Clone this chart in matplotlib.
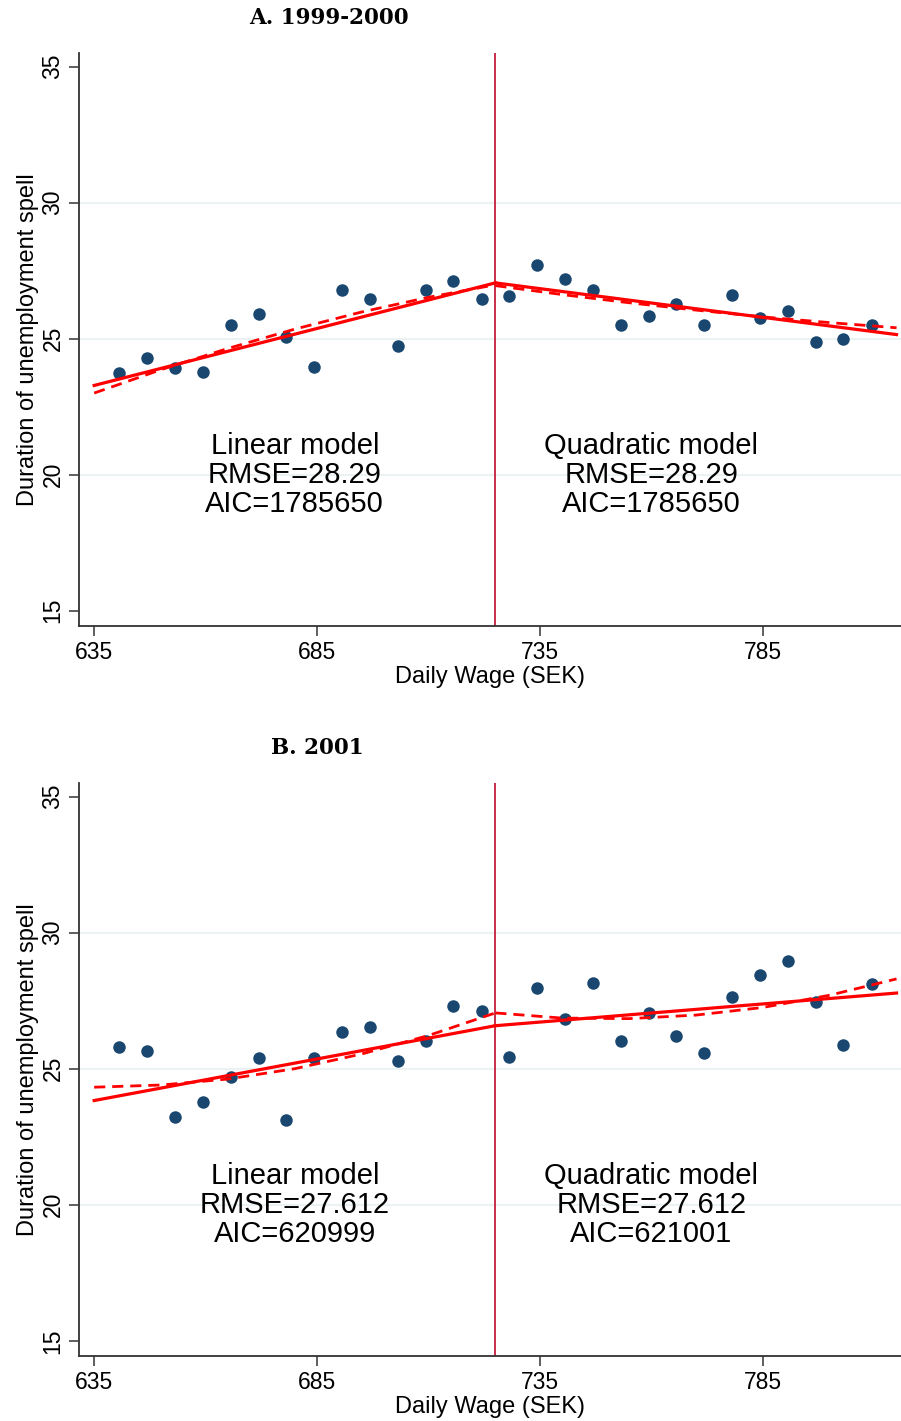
import matplotlib
import matplotlib.pyplot as plt

matplotlib.use('Agg')
plt.rcParams['font.family'] = ['Liberation Sans', 'DejaVu Sans']

# bin centres (daily wage, SEK) and cutoff
wage = [640.6, 646.9, 653.1, 659.4, 665.6, 671.9, 678.1, 684.4, 690.6, 696.9,
        703.1, 709.4, 715.6, 721.9, 728.1, 734.4, 740.6, 746.9, 753.1, 759.4,
        765.6, 771.9, 778.1, 784.4, 790.6, 796.9, 803.1, 809.4]
cutoff = 725

# binned mean duration, panel A (1999-2000)
dur_a = [23.74, 24.29, 23.93, 23.78, 25.49, 25.91, 25.05, 23.96, 26.80, 26.47,
         24.72, 26.80, 27.13, 26.47, 26.56, 27.70, 27.19, 26.80, 25.52, 25.85,
         26.28, 25.49, 26.62, 25.76, 26.02, 24.87, 24.99, 25.49]
# binned mean duration, panel B (2001)
dur_b = [25.79, 25.65, 23.24, 23.79, 24.71, 25.38, 23.11, 25.38, 26.35, 26.55,
         25.27, 26.01, 27.32, 27.11, 25.42, 27.98, 26.83, 28.14, 26.01, 27.05,
         26.19, 25.58, 27.64, 28.46, 28.97, 27.46, 25.87, 28.12]

# fitted lines
fit_x_left = [635, 650, 665, 680, 695, 710, 725]
fit_x_right = [725, 740, 755, 770, 785, 800, 815]
lin_a_left = [23.28, 27.05]
lin_a_right = [27.05, 25.15]
quad_a_left = [23.00, 23.86, 24.64, 25.35, 25.98, 26.52, 26.98]
quad_a_right = [26.95, 26.62, 26.32, 26.05, 25.80, 25.59, 25.40]
lin_b_left = [23.83, 26.58]
lin_b_right = [26.58, 27.78]
quad_b_left = [24.32, 24.40, 24.62, 25.00, 25.54, 26.22, 27.05]
quad_b_right = [27.05, 26.86, 26.84, 26.97, 27.25, 27.70, 28.30]

stats_a = ['Linear model\nRMSE=28.29\nAIC=1785650',
           'Quadratic model\nRMSE=28.29\nAIC=1785650']
stats_b = ['Linear model\nRMSE=27.612\nAIC=620999',
           'Quadratic model\nRMSE=27.612\nAIC=621001']

navy = '#1a476f'
red = '#ff0000'


def draw_panel(ax, dur, lin_l, lin_r, quad_l, quad_r, stats):
    for g in (20, 25, 30):
        ax.axhline(g, color='#eaf2f3', lw=1.5, zorder=0)
    ax.axvline(cutoff, color='#c41e3a', lw=1.3, zorder=1)
    ax.plot([fit_x_left[0], fit_x_left[-1]], lin_l, color=red, lw=2.3, zorder=3)
    ax.plot([fit_x_right[0], fit_x_right[-1]], lin_r, color=red, lw=2.3, zorder=3)
    ax.plot(fit_x_left, quad_l, color=red, lw=2.0, ls=(0, (4, 2.5)), zorder=3)
    ax.plot(fit_x_right, quad_r, color=red, lw=2.0, ls=(0, (4, 2.5)), zorder=3)
    ax.plot(wage, dur, 'o', color=navy, markersize=9, mec='none', zorder=2)

    ax.text(680, 20, stats[0], ha='center', va='center', fontsize=21,
            linespacing=1.05)
    ax.text(760, 20, stats[1], ha='center', va='center', fontsize=21,
            linespacing=1.05)

    ax.set_xlim(631.6, 816)
    ax.set_ylim(14.44, 35.5)
    ax.set_xticks([635, 685, 735, 785])
    ax.set_yticks([15, 20, 25, 30, 35])
    ax.tick_params(axis='both', labelsize=16.5, length=7, width=1.1,
                   color='#333333')
    for lab in ax.get_yticklabels():
        lab.set_rotation(90)
        lab.set_va('center')
    ax.spines['top'].set_visible(False)
    ax.spines['right'].set_visible(False)
    ax.spines['left'].set_color('#333333')
    ax.spines['bottom'].set_color('#333333')
    ax.spines['left'].set_linewidth(1.3)
    ax.spines['bottom'].set_linewidth(1.3)
    ax.set_xlabel('Daily Wage (SEK)', fontsize=17, labelpad=2)
    ax.set_ylabel('Duration of unemployment spell', fontsize=17, labelpad=2)


fig = plt.figure(figsize=(9.01, 14.21), dpi=100)
ax_a = fig.add_axes([0.0877, 0.5595, 1 - 0.0877, 0.9627 - 0.5595])
ax_b = fig.add_axes([0.0877, 0.0457, 1 - 0.0877, 0.4490 - 0.0457])

draw_panel(ax_a, dur_a, lin_a_left, lin_a_right, quad_a_left, quad_a_right, stats_a)
draw_panel(ax_b, dur_b, lin_b_left, lin_b_right, quad_b_left, quad_b_right, stats_b)

fig.text(329 / 901, 1 - 18 / 1421, 'A. 1999-2000', ha='center', va='center',
         fontsize=15.5, fontweight='bold', family='DejaVu Serif')
fig.text(317 / 901, 1 - 748 / 1421, 'B. 2001', ha='center', va='center',
         fontsize=15.5, fontweight='bold', family='DejaVu Serif')

fig.savefig('out.png', dpi=100)
